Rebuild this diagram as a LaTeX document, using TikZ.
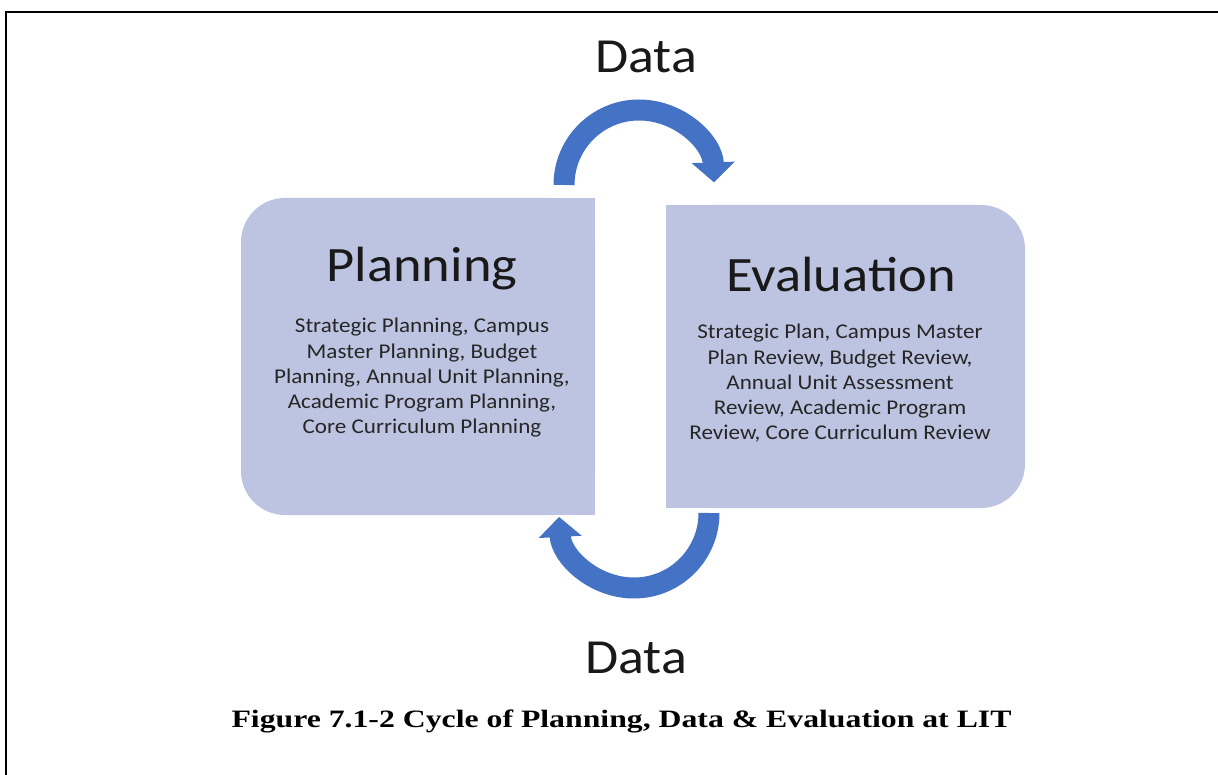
\documentclass[tikz,border=0pt]{standalone}
\usepackage{fontspec}
\usepackage{graphicx}
\setmainfont{Carlito}
\newfontfamily\capfont{Liberation Serif}
\usetikzlibrary{arrows.meta}
\definecolor{boxfill}{RGB}{189,196,225}
\definecolor{arrowblue}{RGB}{68,114,196}
\newcommand{\wx}[1]{\scalebox{1.1}[1]{#1}}
\newcommand{\wcap}[1]{\scalebox{1.27}[1]{#1}}
\tikzset{
  boxshape/.style={fill=boxfill, draw=none},
  title/.style={anchor=base, inner sep=0pt, font=\fontsize{49.5}{56}\selectfont, text=black!90},
  body/.style={anchor=base, inner sep=0pt, align=center, font=\fontsize{21}{25.2}\selectfont, text=black!85},
  datalbl/.style={anchor=base, inner sep=0pt, font=\fontsize{49}{56}\selectfont, text=black!90},
  cyclearrow/.style={draw=arrowblue, line width=21pt, -{Triangle[width=42pt,length=20pt]}},
  caption/.style={anchor=base, inner sep=0pt, font=\capfont\bfseries\fontsize{25}{30}\selectfont}
}
\begin{document}
\begin{tikzpicture}[x=1pt,y=-1pt]
\useasboundingbox (0,0) rectangle (1218,775);
\fill[white] (0,0) rectangle (1218,775);
% frame
\draw[line width=2pt, line cap=butt] (6,776) -- (6,12.5) -- (1219,12.5);
% boxes
\fill[boxshape, rounded corners=44pt] (241,198) rectangle (595,515);
\fill[boxshape] (450,198) rectangle (595,515);
\fill[boxshape, rounded corners=44pt] (666,205) rectangle (1025,508);
\fill[boxshape] (666,205) rectangle (820,508);
% texts
\node[title] (plan) at (422,282) {\wx{Planning}};
\node[body] (planbody) at (422,333) {\wx{\begin{tabular}[t]{@{}c@{}}Strategic Planning, Campus\\Master Planning, Budget\\Planning, Annual Unit Planning,\\Academic Program Planning,\\Core Curriculum Planning\end{tabular}}};
\node[title] (eval) at (841,292) {\wx{Evaluation}};
\node[body] (evalbody) at (840,339) {\wx{\begin{tabular}[t]{@{}c@{}}Strategic Plan, Campus Master\\Plan Review, Budget Review,\\Annual Unit Assessment\\Review, Academic Program\\Review, Core Curriculum Review\end{tabular}}};
\node[datalbl] (datatop) at (646,73) {\wx{Data}};
\node[datalbl] (databot) at (636,673) {\wx{Data}};
\node[caption] (cap) at (621.5,727) {\wcap{Figure 7.1-2 Cycle of Planning, Data \& Evaluation at LIT}};
% arrows
\coordinate (topstart) at (564,185);
\coordinate (botstart) at (709,513);
\draw[cyclearrow] (topstart) arc[start angle=180, end angle=358, radius=75];
\draw[cyclearrow] (botstart) arc[start angle=0, end angle=177, radius=75];
\end{tikzpicture}
\end{document}
